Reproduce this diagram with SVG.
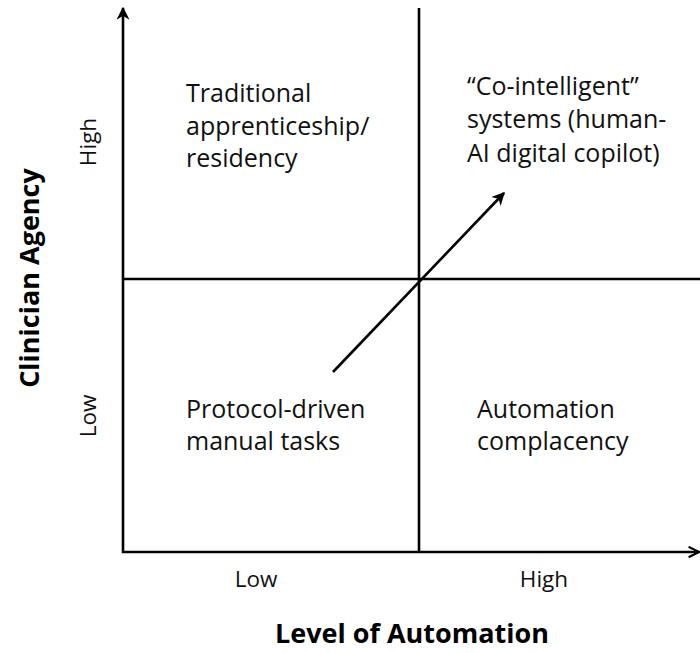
<svg xmlns="http://www.w3.org/2000/svg" width="700" height="653" viewBox="0 0 700 653">
  <style>
    .ax { stroke: #000; stroke-width: 2.6; fill: none; }
    .lbl { font-family: "Open Sans", "Noto Sans", sans-serif; font-size: 25px; fill: #111; }
    .tick { font-family: "Open Sans", "Noto Sans", sans-serif; font-size: 22.5px; fill: #111; }
    .title { font-family: "Open Sans", "Noto Sans", sans-serif; font-size: 27px; font-weight: bold; fill: #000; }
  </style>
  <defs>
    <marker id="head" viewBox="0 0 10 10" refX="9" refY="5" markerWidth="5" markerHeight="5" orient="auto" markerUnits="strokeWidth">
      <path d="M0,0 L10,5 L0,10 L3,5 Z" fill="#000"/>
    </marker>
    <marker id="open" viewBox="0 0 10 10" refX="9" refY="5" markerWidth="5" markerHeight="5" orient="auto" markerUnits="strokeWidth">
      <path d="M1,1 L9,5 L1,9" fill="none" stroke="#000" stroke-width="1.6"/>
    </marker>
  </defs>
  <rect width="700" height="653" fill="#fff"/>

  <g id="connectors">
    <line class="ax" x1="123" y1="553" x2="123" y2="8" marker-end="url(#head)"/>
    <line class="ax" x1="122" y1="552" x2="699" y2="552" marker-end="url(#open)"/>
    <line class="ax" x1="419" y1="8" x2="419" y2="553"/>
    <line class="ax" x1="123" y1="279" x2="700" y2="279"/>
    <line class="ax" x1="333" y1="372" x2="504" y2="193" stroke-width="3" marker-end="url(#head)"/>
  </g>

  <g id="q-traditional">
    <text class="lbl" x="186" y="102">Traditional</text>
    <text class="lbl" x="186" y="135">apprenticeship/</text>
    <text class="lbl" x="186" y="167">residency</text>
  </g>
  <g id="q-cointelligent">
    <text class="lbl" x="467" y="95">“Co-intelligent”</text>
    <text class="lbl" x="467" y="128">systems (human-</text>
    <text class="lbl" x="467" y="162">AI digital copilot)</text>
  </g>
  <g id="q-protocol">
    <text class="lbl" x="186" y="418">Protocol-driven</text>
    <text class="lbl" x="186" y="450">manual tasks</text>
  </g>
  <g id="q-automation">
    <text class="lbl" x="477" y="418">Automation</text>
    <text class="lbl" x="477" y="450">complacency</text>
  </g>

  <g id="axis-y">
    <text class="tick" transform="translate(96,142) rotate(-90)" text-anchor="middle">High</text>
    <text class="tick" transform="translate(96,416) rotate(-90)" text-anchor="middle">Low</text>
    <text class="title" transform="translate(39,278) rotate(-90)" text-anchor="middle" font-size="28">Clinician Agency</text>
  </g>
  <g id="axis-x">
    <text class="tick" x="256" y="587" text-anchor="middle">Low</text>
    <text class="tick" x="544" y="587" text-anchor="middle">High</text>
    <text class="title" x="412" y="643" text-anchor="middle">Level of Automation</text>
  </g>
</svg>
